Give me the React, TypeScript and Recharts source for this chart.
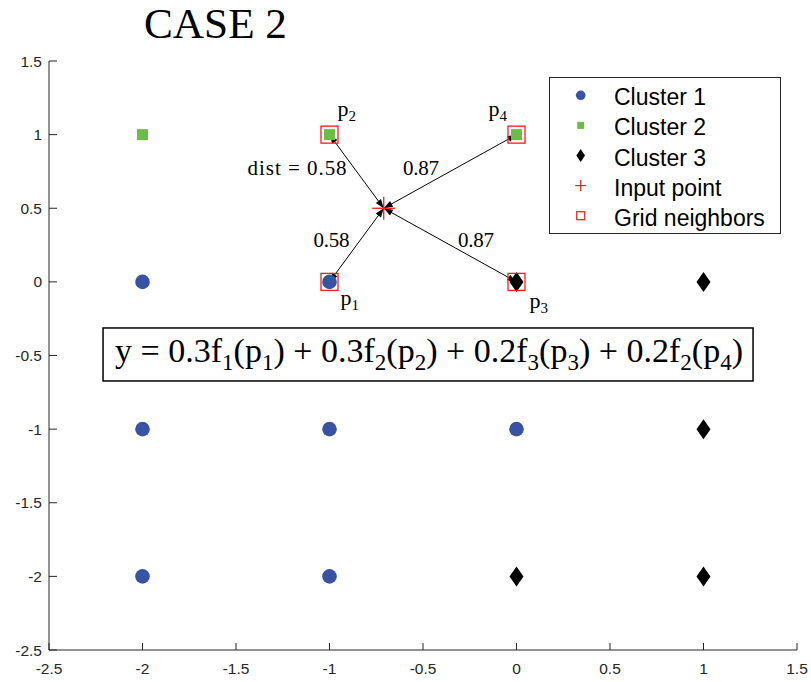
import React from 'react';
import { ScatterChart, Scatter, XAxis, YAxis, ReferenceLine, ReferenceDot, Legend } from 'recharts';

// ---------- data ----------
const cluster1 = [
  { x: -2, y: 0 }, { x: -1, y: 0 }, { x: -2, y: -1 }, { x: -1, y: -1 },
  { x: 0, y: -1 }, { x: -2, y: -2 }, { x: -1, y: -2 },
];
const cluster2 = [{ x: -2, y: 1 }, { x: -1, y: 1 }, { x: 0, y: 1 }];
const cluster3 = [{ x: 0, y: 0 }, { x: 1, y: 0 }, { x: 1, y: -1 }, { x: 0, y: -2 }, { x: 1, y: -2 }];
const inputPoint = [{ x: -0.71, y: 0.5 }];
const gridNeighbors = [{ x: -1, y: 0 }, { x: -1, y: 1 }, { x: 0, y: 0 }, { x: 0, y: 1 }];
const neighborNames = ['1', '2', '3', '4'];
const distLabels = ['0.58', 'dist = 0.58', '0.87', '0.87'];
const legendNames = ['Cluster 1', 'Cluster 2', 'Cluster 3', 'Input point', 'Grid neighbors'];
const xTicks = [-2.5, -2, -1.5, -1, -0.5, 0, 0.5, 1, 1.5];
const yTicks = [-2.5, -2, -1.5, -1, -0.5, 0, 0.5, 1, 1.5];
const titleText = 'CASE 2';
const equationAnchor = { x: -0.473, y: -0.493 };

// ---------- styles ----------
const AX = '#262626';
const BLUE = '#3953a4';
const GREEN = '#6bbd45';
const RED = '#ff1a1a';
const SANS = '"Liberation Sans", Arial, Helvetica, sans-serif';
const SERIF = '"Liberation Serif", "Times New Roman", serif';

// pixel offsets / widths for annotation text (style only)
const pLabelOffsets = [[11, 23], [8, -19], [13, 26], [-28, -19]];
const distOffsets = [
  { dx: -25, dy: 2, anchor: 'middle', w: 36 },
  { dx: -10, dy: 4, anchor: 'end', w: 99 },
  { dx: 26, dy: 2, anchor: 'middle', w: 36 },
  { dx: -29, dy: 4, anchor: 'middle', w: 36 },
];

const fmt = (v: number) => String(v);

const XTick = (props: any) => {
  const { x, y, payload } = props;
  return (
    <g>
      <line x1={x} x2={x} y1={y} y2={y - 7} stroke={AX} strokeWidth={1} />
      <text x={x} y={y + 23.5} textAnchor="middle" fontFamily={SANS} fontSize={15.5} fill={AX}>
        {fmt(payload.value)}
      </text>
    </g>
  );
};

const YTick = (props: any) => {
  const { x, y, payload } = props;
  return (
    <g>
      <line x1={x} x2={x + 8} y1={y} y2={y} stroke={AX} strokeWidth={1} />
      <text x={x - 7} y={y + 5.5} textAnchor="end" fontFamily={SANS} fontSize={15.5} fill={AX}>
        {fmt(payload.value)}
      </text>
    </g>
  );
};

const Circle = (p: any) => <circle cx={p.cx} cy={p.cy} r={7.3} fill={BLUE} />;
const Square = (p: any) => <rect x={p.cx - 5.5} y={p.cy - 5.5} width={11} height={11} fill={GREEN} />;
const Diamond = (p: any) => (
  <polygon
    points={`${p.cx},${p.cy - 10} ${p.cx + 7},${p.cy} ${p.cx},${p.cy + 10} ${p.cx - 7},${p.cy}`}
    fill="#000"
  />
);
const Plus = (p: any) => (
  <g stroke={RED} strokeWidth={1.3}>
    <line x1={p.cx - 11.5} x2={p.cx + 11.5} y1={p.cy} y2={p.cy} />
    <line x1={p.cx} x2={p.cx} y1={p.cy - 11.5} y2={p.cy + 11.5} />
  </g>
);
const OpenSquare = (p: any) => (
  <rect x={p.cx - 8.5} y={p.cy - 8.5} width={17} height={17} fill="none" stroke={RED} strokeWidth={1.3} />
);

function head(x: number, y: number, fx: number, fy: number, len = 9, half = 3.2) {
  const dx = x - fx;
  const dy = y - fy;
  const L = Math.hypot(dx, dy) || 1;
  const ux = dx / L;
  const uy = dy / L;
  const bx = x - ux * len;
  const by = y - uy * len;
  const px = -uy * half;
  const py = ux * half;
  return `${x},${y} ${bx + px},${by + py} ${bx - px},${by - py}`;
}

const ArrowShape = (props: any) => {
  const { x1, y1, x2, y2 } = props;
  if ([x1, y1, x2, y2].some((v) => typeof v !== 'number' || isNaN(v))) return <g />;
  return (
    <g>
      <line x1={x1} y1={y1} x2={x2} y2={y2} stroke="#000" strokeWidth={1} />
      <polygon points={head(x1, y1, x2, y2)} fill="#000" />
      <polygon points={head(x2, y2, x1, y1)} fill="#000" />
    </g>
  );
};

const PLabel = (idx: number) => (props: any) => {
  const { cx, cy } = props;
  const [dx, dy] = pLabelOffsets[idx];
  return (
    <text x={cx + dx} y={cy + dy} fontFamily={SERIF} fontSize={22} fill="#000">
      p<tspan dy={5} fontSize={15}>{neighborNames[idx]}</tspan>
    </text>
  );
};

const DistLabel = (idx: number) => (props: any) => {
  const { cx, cy } = props;
  const o = distOffsets[idx];
  return (
    <text
      x={cx + o.dx}
      y={cy + o.dy}
      textAnchor={o.anchor as any}
      fontFamily={SERIF}
      fontSize={21}
      fill="#000"
      textLength={o.w}
      lengthAdjust="spacing"
    >
      {distLabels[idx]}
    </text>
  );
};

const EquationShape = (props: any) => {
  const { cx, cy } = props;
  const w = 650;
  const h = 53;
  return (
    <g>
      <rect x={cx - w / 2} y={cy - h / 2} width={w} height={h} fill="#fff" stroke="#000" strokeWidth={1.5} />
      <text
        x={cx - 313}
        y={cy + 8}
        fontFamily={SERIF}
        fontSize={34}
        fill="#000"
        textLength={628}
        lengthAdjust="spacingAndGlyphs"
      >
        y = 0.3f<tspan dy={8} fontSize={23}>1</tspan><tspan dy={-8}>(p</tspan><tspan dy={8} fontSize={23}>1</tspan><tspan dy={-8}>) + 0.3f</tspan>
        <tspan dy={8} fontSize={23}>2</tspan><tspan dy={-8}>(p</tspan><tspan dy={8} fontSize={23}>2</tspan><tspan dy={-8}>) + 0.2f</tspan>
        <tspan dy={8} fontSize={23}>3</tspan><tspan dy={-8}>(p</tspan><tspan dy={8} fontSize={23}>3</tspan><tspan dy={-8}>) + 0.2f</tspan>
        <tspan dy={8} fontSize={23}>2</tspan><tspan dy={-8}>(p</tspan><tspan dy={8} fontSize={23}>4</tspan><tspan dy={-8}>)</tspan>
      </text>
    </g>
  );
};

const legendMarkers = [
  (cx: number, cy: number) => <circle cx={cx} cy={cy} r={4.8} fill={BLUE} />,
  (cx: number, cy: number) => <rect x={cx - 3.5} y={cy - 3.5} width={7} height={7} fill={GREEN} />,
  (cx: number, cy: number) => (
    <polygon points={`${cx},${cy - 6.5} ${cx + 4.3},${cy} ${cx},${cy + 6.5} ${cx - 4.3},${cy}`} fill="#000" />
  ),
  (cx: number, cy: number) => (
    <g stroke={RED} strokeWidth={1.2}>
      <line x1={cx - 5.5} x2={cx + 5.5} y1={cy} y2={cy} />
      <line x1={cx} x2={cx} y1={cy - 5.5} y2={cy + 5.5} />
    </g>
  ),
  (cx: number, cy: number) => (
    <rect x={cx - 4} y={cy - 4} width={8} height={8} fill="none" stroke={RED} strokeWidth={1.2} />
  ),
];

const LegendBox = () => (
  <svg width={233} height={158} style={{ display: 'block' }}>
    <rect x={0.5} y={0.5} width={231} height={156} fill="#fff" stroke={AX} strokeWidth={1} />
    {legendNames.map((name, i) => {
      const cy = 18.3 + i * 30.1;
      return (
        <g key={name}>
          {legendMarkers[i](31.7, cy)}
          <text x={65} y={cy + 10} fontFamily={SANS} fontSize={23} fill="#000">
            {name}
          </text>
        </g>
      );
    })}
  </svg>
);

export default function App() {
  const origin = inputPoint[0];
  return (
    <div style={{ position: 'absolute', left: 0, top: 0, width: 811, height: 682, background: '#fff' }}>
      <ScatterChart width={811} height={682} margin={{ top: 61, right: 14, bottom: 0, left: 0 }}>
        <XAxis
          type="number"
          dataKey="x"
          domain={[-2.5, 1.5]}
          ticks={xTicks}
          interval={0}
          height={32}
          stroke={AX}
          tickLine={false}
          tickSize={0}
          tickMargin={0}
          tick={<XTick />}
          allowDataOverflow
        />
        <YAxis
          type="number"
          dataKey="y"
          domain={[-2.5, 1.5]}
          ticks={yTicks}
          interval={0}
          width={49}
          stroke={AX}
          tickLine={false}
          tickSize={0}
          tickMargin={0}
          tick={<YTick />}
          allowDataOverflow
        />
        <Scatter name="Cluster 1" data={cluster1} shape={Circle} isAnimationActive={false} />
        <Scatter name="Cluster 2" data={cluster2} shape={Square} isAnimationActive={false} />
        <Scatter name="Cluster 3" data={cluster3} shape={Diamond} isAnimationActive={false} />
        <Scatter name="Input point" data={inputPoint} shape={Plus} isAnimationActive={false} />
        <Scatter name="Grid neighbors" data={gridNeighbors} shape={OpenSquare} isAnimationActive={false} />
        {gridNeighbors.map((n, i) => (
          <ReferenceLine
            key={'a' + i}
            segment={[{ x: origin.x, y: origin.y }, { x: n.x, y: n.y }]}
            shape={ArrowShape}
            ifOverflow="visible"
          />
        ))}
        {gridNeighbors.map((n, i) => (
          <ReferenceDot key={'p' + i} x={n.x} y={n.y} r={0} shape={PLabel(i)} ifOverflow="visible" />
        ))}
        {gridNeighbors.map((n, i) => (
          <ReferenceDot
            key={'d' + i}
            x={(origin.x + n.x) / 2}
            y={(origin.y + n.y) / 2}
            r={0}
            shape={DistLabel(i)}
            ifOverflow="visible"
          />
        ))}
        <ReferenceDot x={equationAnchor.x} y={equationAnchor.y} r={0} shape={EquationShape} ifOverflow="visible" />
        <Legend
          layout="vertical"
          align="center"
          verticalAlign="middle"
          content={<LegendBox />}
          wrapperStyle={{ position: 'absolute', left: 549, top: 77, width: 233, height: 158 }}
        />
      </ScatterChart>
      <svg style={{ position: 'absolute', left: 0, top: 0, overflow: 'visible' }} width={811} height={56}>
        <text x={144} y={38} fontFamily={SERIF} fontSize={43} fill="#000" textLength={143} lengthAdjust="spacingAndGlyphs">
          {titleText}
        </text>
      </svg>
    </div>
  );
}
